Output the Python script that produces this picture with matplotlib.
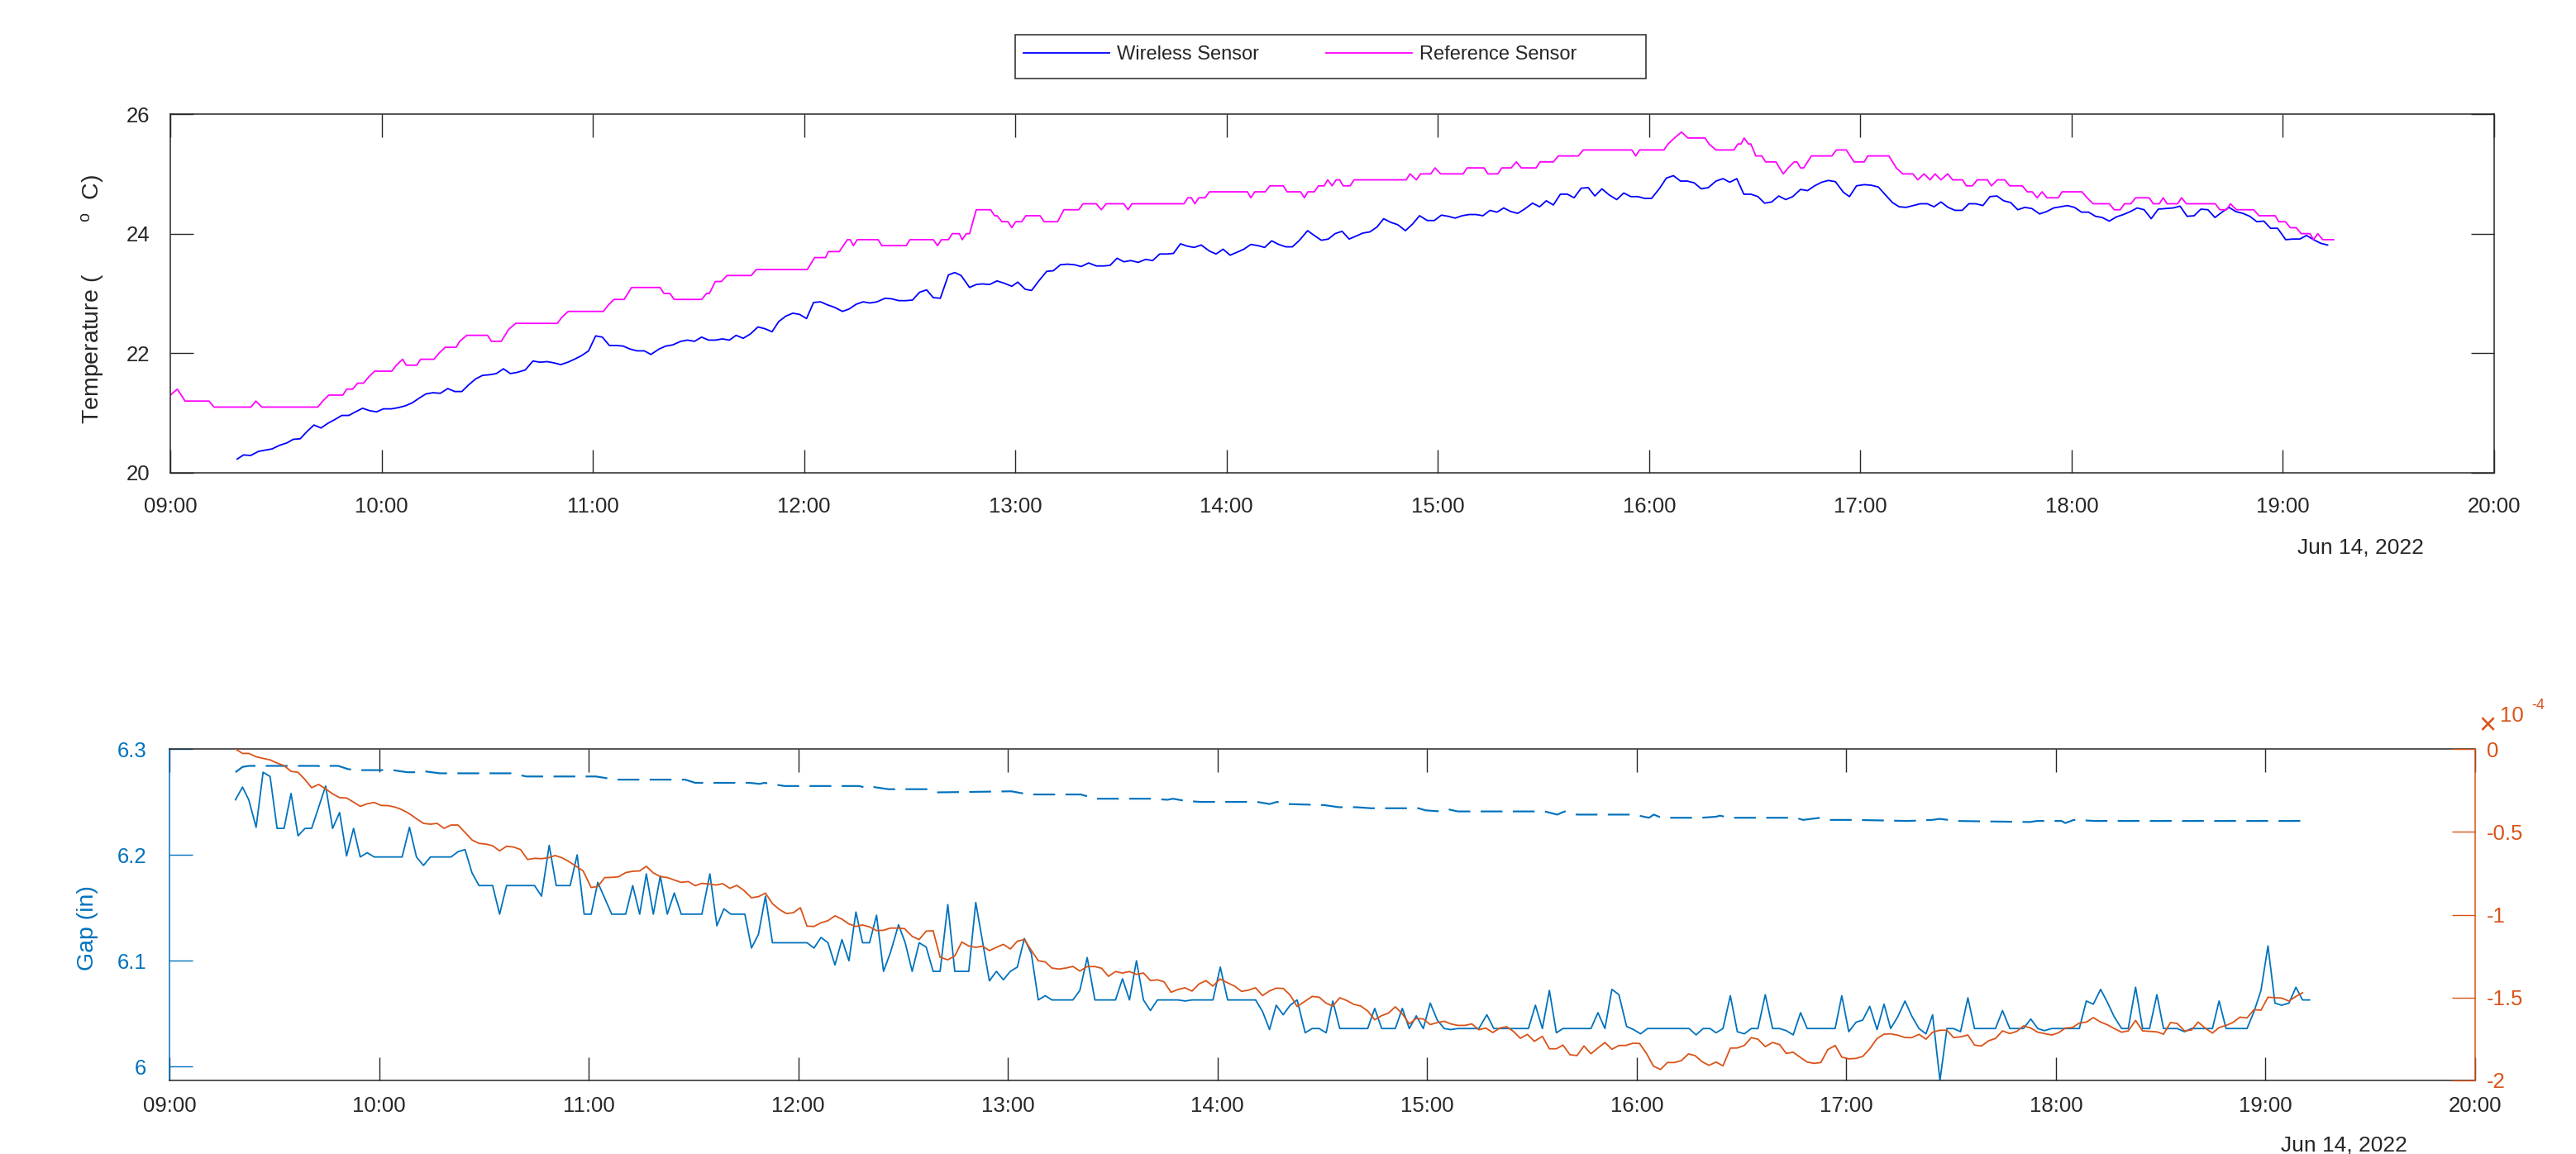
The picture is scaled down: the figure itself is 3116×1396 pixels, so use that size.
import numpy as np
import matplotlib
matplotlib.use('Agg')
import matplotlib.pyplot as plt
import matplotlib.dates as mdates
from matplotlib.ticker import FixedLocator, FuncFormatter
from matplotlib.patches import Rectangle

plt.rcParams['font.family'] = ['Liberation Sans', 'DejaVu Sans']
plt.rcParams['axes.unicode_minus'] = False
plt.rcParams['lines.scale_dashes'] = False
plt.rcParams['mathtext.fontset'] = 'custom'
plt.rcParams['mathtext.rm'] = 'Liberation Sans'
plt.rcParams['mathtext.it'] = 'Liberation Sans'

# ---------------- data (minutes after 09:00, value) ----------------
wireless = [(19.0,20.23),(20.8,20.30),(22.8,20.29),(25.1,20.36),(28.9,20.40),(31.0,20.46),(33.1,20.50),(34.9,20.56),(36.9,20.57),(38.8,20.69),(40.8,20.80),(42.8,20.75),(44.8,20.83),(46.7,20.89),(48.7,20.96),(50.7,20.96),(52.6,21.02),(54.6,21.08),(56.6,21.04),(58.6,21.02),(60.5,21.07),(62.8,21.07),(64.7,21.09),(66.7,21.12),(68.7,21.17),(70.7,21.25),(72.6,21.32),(74.6,21.34),(76.7,21.33),(78.8,21.41),(80.8,21.36),(82.8,21.36),(84.7,21.47),(86.7,21.57),(88.7,21.63),(90.6,21.64),(92.6,21.66),(94.6,21.74),(96.6,21.66),(98.5,21.68),(100.8,21.72),(103.0,21.87),(105.0,21.85),(107.0,21.86),(108.9,21.84),(110.9,21.81),(112.9,21.85),(114.8,21.90),(116.8,21.96),(118.8,22.04),(120.8,22.29),(122.7,22.27),(124.7,22.13),(126.7,22.13),(128.6,22.12),(130.6,22.07),(132.6,22.04),(134.6,22.04),(136.5,21.98),(138.8,22.07),(140.7,22.12),(142.7,22.14),(145.0,22.20),(146.9,22.22),(148.9,22.20),(150.9,22.27),(152.9,22.22),(154.8,22.22),(156.8,22.24),(158.8,22.22),(160.7,22.30),(162.7,22.25),(164.7,22.32),(166.9,22.44),(168.9,22.41),(170.9,22.36),(172.8,22.53),(174.8,22.62),(176.8,22.67),(178.7,22.65),(180.7,22.58),(182.7,22.85),(184.7,22.86),(186.6,22.81),(188.6,22.77),(190.9,22.70),(192.8,22.74),(194.8,22.82),(196.8,22.86),(198.7,22.84),(200.7,22.86),(203.0,22.92),(204.9,22.91),(206.9,22.88),(208.9,22.88),(210.8,22.89),(212.8,23.02),(214.8,23.06),(216.7,22.93),(218.7,22.92),
(221.0,23.31),(222.8,23.35),(224.6,23.30),(227.0,23.10),(228.9,23.15),(230.6,23.16),(232.7,23.15),(234.8,23.21),(236.9,23.17),(239.0,23.12),(240.7,23.19),(242.8,23.07),(244.6,23.05),(246.8,23.22),(248.9,23.37),(250.8,23.38),(252.8,23.48),(254.8,23.49),(256.8,23.48),(258.7,23.45),(260.8,23.51),(263.0,23.46),(265.1,23.46),(266.9,23.47),(268.9,23.59),(270.8,23.53),(272.8,23.55),(274.9,23.52),(277.0,23.57),(279.0,23.55),(281.0,23.66),(283.0,23.66),(284.9,23.67),(286.9,23.83),(288.9,23.79),(290.8,23.77),(292.8,23.81),(295.1,23.71),(297.0,23.66),(299.0,23.74),(301.0,23.64),(303.0,23.69),(304.9,23.74),(306.9,23.82),(308.9,23.80),(310.8,23.77),(312.8,23.88),(314.8,23.82),(316.8,23.78),(318.7,23.78),(320.7,23.89),(323.0,24.05),(324.9,23.97),(326.9,23.89),(328.9,23.91),(330.8,24.00),(332.8,24.04),(334.8,23.91),(336.8,23.96),(338.7,24.01),(340.7,24.03),(342.7,24.11),(344.6,24.25),(346.6,24.19),(348.6,24.15),(350.8,24.05),(352.8,24.16),(354.8,24.30),(357.0,24.22),(359.0,24.22),(361.0,24.31),(363.0,24.29),(364.9,24.26),(366.9,24.30),(368.9,24.32),(370.8,24.32),(372.8,24.30),(374.8,24.39),(376.8,24.36),(378.7,24.43),(380.7,24.37),(382.7,24.34),(384.6,24.41),(386.9,24.51),(388.9,24.45),(390.8,24.55),(392.8,24.48),(394.8,24.66),(396.8,24.66),(398.7,24.60),(400.7,24.76),(402.7,24.77),(404.6,24.63),(406.6,24.75),(408.6,24.65),(410.8,24.57),(412.8,24.68),(414.8,24.62),(416.8,24.62),(418.7,24.59),(420.7,24.59),(423.0,24.76),(424.9,24.93),(426.9,24.97),(428.9,24.88),(430.8,24.88),(432.8,24.85),(434.8,24.75),(436.8,24.77),(439.0,24.88),
(441.0,24.92),(442.9,24.86),(444.9,24.92),(446.9,24.66),(448.9,24.66),(450.9,24.62),(452.8,24.51),(454.8,24.53),(456.8,24.63),(458.8,24.57),(460.8,24.62),(463.0,24.74),(465.0,24.72),(467.0,24.80),(469.0,24.86),(470.9,24.89),(472.9,24.87),(475.2,24.69),(476.9,24.62),(478.9,24.80),(481.1,24.82),(483.1,24.81),(485.1,24.78),(487.1,24.65),(489.1,24.52),(491.0,24.45),(493.0,24.44),(495.0,24.47),(497.0,24.50),(499.0,24.50),(500.9,24.45),(502.9,24.53),(504.9,24.44),(506.9,24.39),(508.9,24.39),(510.8,24.50),(512.8,24.50),(514.8,24.47),(516.8,24.62),(518.8,24.63),(520.7,24.55),(522.7,24.52),(524.7,24.40),(526.7,24.44),(528.7,24.42),(530.9,24.33),(532.9,24.37),(534.9,24.43),(536.9,24.45),(538.8,24.47),(540.8,24.44),(542.8,24.36),(544.8,24.36),(546.8,24.29),(548.7,24.27),(550.7,24.21),(552.7,24.28),(554.7,24.32),(556.7,24.37),(558.6,24.43),(560.6,24.40),(562.6,24.25),(564.6,24.41),(566.6,24.42),(568.8,24.43),(570.8,24.46),(572.8,24.29),(574.8,24.30),(576.7,24.41),(578.7,24.40),(580.7,24.27),(582.7,24.36),(584.7,24.44),(586.6,24.37),(588.6,24.34),(590.6,24.29),(592.6,24.20),(594.6,24.21),(596.5,24.09),(598.5,24.09),(600.8,23.90),(602.8,23.91),(604.8,23.91),(606.7,23.97),(608.7,23.90),(610.7,23.84),(612.7,23.81)]

reference = [(0.0,21.3),(2.0,21.4),(4.2,21.2),(11.0,21.2),(12.4,21.1),(22.9,21.1),(24.3,21.2),(26.0,21.1),(41.9,21.1),(43.3,21.2),(45.0,21.3),(49.0,21.3),(50.1,21.4),(51.8,21.4),(53.2,21.5),(54.9,21.5),(56.3,21.6),(58.0,21.7),(62.9,21.7),(64.2,21.8),(66.0,21.9),(67.0,21.8),(70.0,21.8),(71.1,21.9),(74.9,21.9),(76.3,22.0),(78.1,22.1),(81.2,22.1),(82.2,22.2),(84.2,22.3),(90.1,22.3),(91.2,22.2),(94.0,22.2),(96.1,22.4),(98.1,22.5),(109.9,22.5),(111.2,22.6),(113.0,22.7),(123.0,22.7),(124.3,22.8),(126.0,22.9),(128.9,22.9),(131.0,23.1),(139.1,23.1),(140.2,23.0),(141.9,23.0),(143.1,22.9),(150.9,22.9),(152.3,23.0),(153.1,23.0),(154.8,23.2),(156.5,23.2),(158.1,23.3),(165.0,23.3),(166.4,23.4),(180.9,23.4),(183.0,23.6),(186.1,23.6),(186.9,23.7),(190.0,23.7),(192.3,23.9),(193.1,23.9),(194.0,23.8),(195.1,23.9),(201.0,23.9),(202.1,23.8),(209.0,23.8),(210.1,23.9),(216.7,23.9),(217.9,23.8),(219.0,23.9),
(221.0,23.9),(222.1,24.0),(224.1,24.0),(224.9,23.9),(226.1,24.0),(227.0,24.0),(228.9,24.4),(233.0,24.4),(234.1,24.3),(234.8,24.3),(236.2,24.2),(237.9,24.2),(239.0,24.1),(240.1,24.2),(241.8,24.2),(243.0,24.3),(247.0,24.3),(248.2,24.2),(252.0,24.2),(253.8,24.4),(258.0,24.4),(259.2,24.5),(263.0,24.5),(264.4,24.4),(265.8,24.5),(270.8,24.5),(272.0,24.4),(273.1,24.5),(287.9,24.5),(289.0,24.6),(290.0,24.6),(291.0,24.5),(292.1,24.6),(293.9,24.6),(295.1,24.7),(305.9,24.7),(306.9,24.6),(308.0,24.7),(311.0,24.7),(312.3,24.8),(316.1,24.8),(317.2,24.7),(321.0,24.7),(322.1,24.6),(323.1,24.7),(324.9,24.7),(326.1,24.8),(327.7,24.8),(328.7,24.9),(330.0,24.8),(331.1,24.9),(332.1,24.9),(333.1,24.8),(335.1,24.8),(336.2,24.9),(351.0,24.9),(352.1,25.0),(353.9,24.9),(355.1,25.0),(358.0,25.0),(359.2,25.1),(360.8,25.0),(367.2,25.0),(368.3,25.1),(373.1,25.1),(374.2,25.0),(377.0,25.0),(378.2,25.1),(380.8,25.1),(382.3,25.2),(383.7,25.1),(387.9,25.1),(389.0,25.2),(392.8,25.2),(394.2,25.3),(399.9,25.3),(401.3,25.4),(415.1,25.4),(416.2,25.3),(417.3,25.4),(424.2,25.4),(425.4,25.5),(427.2,25.6),(429.2,25.7),(431.0,25.6),(435.9,25.6),(437.0,25.5),(439.0,25.4),
(444.1,25.4),(445.2,25.5),(446.1,25.5),(447.0,25.6),(448.2,25.5),(448.9,25.5),(450.3,25.3),(452.0,25.3),(453.1,25.2),(456.0,25.2),(458.1,25.0),(459.5,25.1),(461.2,25.2),(462.0,25.2),(463.0,25.1),(463.9,25.1),(466.1,25.3),(471.9,25.3),(473.2,25.4),(476.0,25.4),(478.2,25.2),(481.1,25.2),(482.1,25.3),(488.1,25.3),(490.2,25.1),(492.0,25.0),(494.9,25.0),(496.3,24.9),(498.1,25.0),(499.8,24.9),(501.2,25.0),(502.9,24.9),(504.8,25.0),(506.2,24.9),(509.0,24.9),(510.1,24.8),(511.8,24.8),(513.2,24.9),(516.1,24.9),(517.2,24.8),(518.9,24.9),(521.0,24.9),(522.4,24.8),(526.0,24.8),(527.4,24.7),(528.8,24.7),(530.2,24.6),(531.6,24.7),(533.0,24.6),(536.2,24.6),(537.3,24.7),(542.9,24.7),(544.4,24.6),(546.1,24.5),(550.7,24.5),(552.1,24.4),(553.8,24.4),(555.0,24.5),(556.8,24.5),(558.2,24.6),(562.0,24.6),(563.2,24.5),(564.9,24.5),(566.0,24.6),(567.1,24.5),(570.1,24.5),(571.2,24.6),(572.6,24.5),(580.8,24.5),(582.1,24.4),(584.0,24.4),(585.1,24.5),(586.8,24.4),(591.7,24.4),(593.2,24.3),(597.8,24.3),(598.8,24.2),(600.7,24.2),(602.1,24.1),(603.8,24.1),(605.2,24.0),(607.7,24.0),(608.7,23.9),(609.9,24.0),(611.3,23.9),(614.4,23.9)]

gap_measured = [(18.9,6.252),(20.9,6.264),(22.7,6.252),(24.8,6.226),(26.8,6.278),(28.8,6.274),(30.8,6.225),(32.8,6.225),(34.8,6.258),(36.8,6.218),(38.8,6.225),(40.7,6.225),(42.7,6.245),(44.7,6.265),(46.7,6.225),(48.7,6.240),(50.7,6.199),(52.7,6.225),(54.6,6.198),(56.6,6.202),(58.6,6.198),(60.6,6.198),(62.6,6.198),(64.6,6.198),(66.6,6.198),(68.7,6.226),(70.7,6.198),(72.7,6.190),(74.7,6.198),(76.6,6.198),(78.6,6.198),(80.6,6.198),(82.6,6.203),(84.6,6.205),(86.6,6.183),(88.6,6.171),(90.6,6.171),(92.5,6.171),(94.5,6.144),(96.5,6.171),(98.5,6.171),(100.5,6.171),(102.5,6.171),(104.5,6.171),(106.5,6.161),(108.7,6.209),(110.7,6.171),(112.7,6.171),(114.7,6.171),(116.7,6.200),(118.7,6.144),(120.7,6.144),(122.6,6.174),(124.6,6.159),(126.6,6.144),(128.6,6.144),(130.6,6.144),(132.6,6.171),(134.6,6.144),(136.5,6.182),(138.5,6.144),(140.5,6.180),(142.5,6.144),(144.5,6.164),(146.5,6.144),(148.5,6.144),(150.5,6.144),(152.4,6.144),(154.7,6.182),(156.7,6.133),(158.7,6.149),(160.7,6.144),(162.7,6.144),(164.7,6.144),(166.6,6.112),(168.6,6.125),(170.6,6.161),(172.6,6.117),(174.6,6.117),(176.6,6.117),(178.6,6.117),(180.6,6.117),(182.5,6.117),(184.5,6.112),(186.5,6.122),(188.5,6.117),(190.5,6.096),(192.5,6.120),(194.5,6.100),(196.5,6.146),(198.4,6.117),(200.4,6.117),(202.4,6.143),(204.4,6.090),(206.4,6.108),(208.7,6.134),(210.6,6.117),(212.6,6.090),(214.6,6.117),(216.6,6.113),(218.6,6.090),(220.6,6.090),
(222.8,6.153),(224.8,6.090),(226.8,6.090),(228.8,6.090),(230.8,6.155),(232.8,6.117),(234.7,6.081),(236.7,6.090),(238.7,6.082),(240.7,6.090),(242.7,6.094),(244.7,6.121),(246.7,6.107),(248.7,6.063),(250.7,6.067),(252.6,6.063),(254.6,6.063),(256.6,6.063),(258.6,6.063),(260.6,6.072),(262.7,6.103),(264.9,6.063),(266.8,6.063),(268.8,6.063),(270.8,6.063),(272.8,6.083),(274.8,6.063),(276.8,6.100),(278.8,6.063),(280.8,6.053),(282.8,6.063),(284.7,6.063),(286.7,6.063),(288.7,6.063),(290.7,6.062),(292.7,6.063),(294.7,6.063),(296.7,6.063),(298.7,6.063),(300.8,6.094),(302.9,6.063),(304.9,6.063),(306.9,6.063),(308.9,6.063),(310.9,6.063),(312.9,6.052),(314.9,6.035),(316.8,6.058),(318.8,6.049),(320.8,6.058),(322.8,6.063),(325.1,6.032),(327.1,6.036),(329.1,6.036),(331.1,6.032),(333.0,6.062),(335.0,6.036),(337.0,6.036),(339.0,6.036),(341.0,6.036),(343.0,6.036),(345.0,6.055),(347.0,6.036),(348.9,6.036),(350.9,6.036),(352.9,6.055),(354.9,6.036),(356.9,6.048),(358.9,6.036),(360.9,6.060),(362.9,6.044),(364.9,6.036),(366.8,6.035),(368.8,6.036),(370.8,6.036),(372.8,6.036),(374.8,6.036),(377.1,6.049),(379.1,6.036),(381.1,6.036),(383.0,6.036),(385.0,6.036),(387.0,6.036),(389.0,6.036),(391.0,6.058),(393.0,6.036),(395.0,6.072),(397.0,6.032),(398.9,6.036),(400.9,6.036),(402.9,6.036),(404.9,6.036),(406.9,6.036),(408.9,6.051),(410.9,6.036),(412.9,6.073),(414.9,6.068),(417.1,6.038),(419.1,6.035),(421.1,6.031),(423.1,6.036),(425.1,6.036),(427.1,6.036),(429.1,6.036),(431.1,6.036),(433.0,6.036),(435.0,6.036),(437.0,6.030),(439.0,6.036),(441.0,6.036),(442.7,6.032),
(444.7,6.036),(446.8,6.067),(448.8,6.033),(450.8,6.031),(452.8,6.036),(454.7,6.036),(456.8,6.068),(458.9,6.036),(460.9,6.036),(462.8,6.034),(464.8,6.030),(466.9,6.051),(468.8,6.036),(470.8,6.036),(472.7,6.036),(474.7,6.036),(476.8,6.036),(478.7,6.067),(480.7,6.033),(482.8,6.042),(484.7,6.044),(486.7,6.057),(488.8,6.035),(490.8,6.059),(492.7,6.036),(494.7,6.047),(496.8,6.062),(498.7,6.048),(500.8,6.036),(502.8,6.031),(504.7,6.049),(506.8,5.987),(508.8,6.036),(510.7,6.036),(512.7,6.033),(514.8,6.065),(516.7,6.036),(518.7,6.036),(520.7,6.036),(522.7,6.036),(524.7,6.053),(526.8,6.036),(528.8,6.036),(530.7,6.036),(532.8,6.045),(534.8,6.036),(536.7,6.034),(538.8,6.036),(540.8,6.036),(542.7,6.036),(544.7,6.036),(546.7,6.036),(548.7,6.062),(550.7,6.059),(552.8,6.073),(554.7,6.061),(556.7,6.047),(558.8,6.036),(560.7,6.036),(562.8,6.075),(564.8,6.036),(566.8,6.036),(568.9,6.068),(570.8,6.036),(572.8,6.036),(574.7,6.036),(576.8,6.033),(578.8,6.036),(580.7,6.036),(582.7,6.036),(584.8,6.036),(586.7,6.062),(588.7,6.036),(590.6,6.036),(592.7,6.036),(594.7,6.036),(596.7,6.052),(598.7,6.072),(600.7,6.114),(602.7,6.060),(604.6,6.058),(606.7,6.060),(608.7,6.075),(610.6,6.063),(612.6,6.063)]

gap_smooth = [(18.9,6.278),(20.9,6.283),(22.7,6.284),(42.6,6.284),(43.3,6.283),(44.5,6.284),(48.3,6.284),(51.1,6.281),(53.2,6.280),(63.9,6.280),(68.1,6.278),(71.0,6.278),(72.7,6.279),(77.4,6.277),(97.9,6.277),(102.2,6.274),(122.1,6.274),(127.8,6.271),(147.6,6.271),(150.5,6.268),(166.1,6.268),(168.9,6.267),(170.3,6.268),(176.0,6.265),(197.3,6.265),(200.1,6.263),(201.6,6.264),(205.8,6.262),(217.2,6.262),(220.0,6.259),(241.0,6.260),(246.0,6.257),(260.9,6.257),(265.1,6.253),(280.8,6.253),(285.7,6.252),(287.2,6.253),(290.7,6.251),(295.0,6.250),(311.3,6.250),(314.9,6.248),(317.0,6.250),(319.8,6.248),(330.5,6.247),(334.7,6.245),(339.7,6.245),(344.0,6.244),(357.5,6.244),(359.6,6.242),(363.9,6.241),(366.0,6.243),(368.8,6.241),(389.4,6.241),(393.7,6.241),(397.2,6.238),(399.4,6.241),(402.9,6.238),(419.3,6.238),(423.5,6.235),(424.9,6.238),(427.1,6.235),(438.4,6.235),(442.7,6.236),(443.8,6.237),(446.6,6.235),(465.5,6.235),(467.6,6.233),(472.5,6.235),(475.3,6.233),(482.2,6.233),(497.6,6.232),(504.6,6.233),(506.7,6.234),(511.6,6.232),(532.5,6.231),(534.6,6.232),(541.6,6.232),(542.7,6.230),(545.1,6.233),(551.4,6.232),(612.9,6.232)]

# right axis series, in units of 1e-4
strain_e4 = [(18.9,0.000),(20.9,-0.027),(22.7,-0.027),(24.8,-0.047),(26.8,-0.057),(28.8,-0.066),(30.8,-0.085),(32.8,-0.101),(34.8,-0.135),(36.8,-0.141),(38.8,-0.185),(40.7,-0.234),(42.7,-0.214),(44.7,-0.241),(46.7,-0.271),(48.7,-0.294),(50.7,-0.296),(52.7,-0.321),(54.6,-0.346),(56.6,-0.331),(58.6,-0.323),(60.6,-0.341),(62.6,-0.342),(64.6,-0.351),(66.6,-0.367),(68.7,-0.391),(70.7,-0.421),(72.7,-0.449),(74.7,-0.454),(76.6,-0.449),(78.6,-0.479),(80.6,-0.459),(82.6,-0.459),(84.6,-0.504),(86.6,-0.549),(88.6,-0.570),(90.6,-0.574),(92.5,-0.584),(94.5,-0.615),(96.5,-0.587),(98.5,-0.592),(100.5,-0.607),(102.5,-0.667),(104.5,-0.660),(106.5,-0.662),(108.4,-0.657),(110.4,-0.643),(112.4,-0.657),(114.4,-0.680),(116.4,-0.708),(118.4,-0.736),(120.7,-0.836),(122.6,-0.830),(124.6,-0.776),(126.6,-0.775),(128.6,-0.771),(130.6,-0.746),(132.6,-0.738),(134.6,-0.736),(136.5,-0.708),(138.5,-0.748),(140.5,-0.770),(142.5,-0.776),(144.5,-0.791),(146.5,-0.805),(148.5,-0.800),(150.5,-0.825),(152.4,-0.811),(154.4,-0.815),(156.4,-0.821),(158.4,-0.813),(160.4,-0.841),(162.4,-0.823),(164.4,-0.853),(166.6,-0.898),(168.6,-0.891),(170.6,-0.870),(172.6,-0.933),(174.6,-0.969),(176.6,-0.993),(178.6,-0.988),(180.6,-0.958),(182.5,-1.069),(184.5,-1.071),(186.5,-1.049),(188.5,-1.036),(190.5,-1.007),(192.5,-1.027),(194.5,-1.056),(196.5,-1.071),(198.4,-1.062),(200.4,-1.074),(202.4,-1.096),(204.4,-1.094),(206.4,-1.081),(208.4,-1.081),(210.4,-1.084),(212.6,-1.131),(214.6,-1.150),(216.6,-1.099),(218.6,-1.097),(220.6,-1.257),
(222.8,-1.272),(224.8,-1.249),(226.8,-1.165),(228.8,-1.189),(230.8,-1.197),(232.8,-1.190),(234.7,-1.217),(236.7,-1.197),(238.7,-1.179),(240.7,-1.207),(242.7,-1.160),(244.7,-1.150),(246.7,-1.215),(248.7,-1.278),(250.7,-1.285),(252.6,-1.322),(254.6,-1.328),(256.6,-1.322),(258.6,-1.312),(260.6,-1.340),(262.7,-1.313),(264.9,-1.313),(266.8,-1.323),(268.8,-1.372),(270.8,-1.343),(272.8,-1.352),(274.8,-1.343),(276.8,-1.360),(278.8,-1.352),(280.8,-1.397),(282.8,-1.393),(284.7,-1.405),(286.7,-1.468),(288.7,-1.451),(290.7,-1.441),(292.7,-1.461),(294.7,-1.418),(296.7,-1.398),(298.7,-1.431),(300.7,-1.388),(302.6,-1.408),(304.9,-1.431),(306.9,-1.463),(308.9,-1.455),(310.9,-1.441),(312.9,-1.488),(314.9,-1.460),(316.8,-1.443),(318.8,-1.445),(320.8,-1.485),(322.8,-1.554),(324.8,-1.526),(327.1,-1.493),(329.1,-1.498),(331.1,-1.534),(333.0,-1.551),(335.0,-1.501),(337.0,-1.518),(339.0,-1.541),(341.0,-1.551),(343.0,-1.581),(345.0,-1.634),(347.0,-1.609),(348.9,-1.594),(350.9,-1.556),(352.9,-1.598),(354.9,-1.659),(356.9,-1.626),(358.9,-1.629),(360.9,-1.663),(362.9,-1.651),(364.9,-1.643),(366.8,-1.659),(368.8,-1.668),(370.8,-1.668),(372.8,-1.659),(374.8,-1.694),(376.8,-1.684),(378.8,-1.711),(380.8,-1.684),(382.8,-1.676),(384.7,-1.704),(386.7,-1.746),(388.7,-1.722),(390.7,-1.764),(393.0,-1.734),(395.0,-1.809),(397.0,-1.809),(398.9,-1.787),(400.9,-1.845),(402.9,-1.850),(404.9,-1.792),(406.9,-1.839),(408.9,-1.804),(410.9,-1.771),(412.9,-1.812),(414.9,-1.789),(416.9,-1.789),(418.8,-1.776),(420.8,-1.777),(422.8,-1.837),(424.8,-1.914),(426.8,-1.934),(428.8,-1.892),(430.8,-1.892),(432.8,-1.880),(434.8,-1.840),(436.7,-1.850),(438.7,-1.887),(440.7,-1.909),(442.7,-1.889),
(444.7,-1.912),(446.8,-1.805),(448.8,-1.804),(450.8,-1.789),(452.8,-1.742),(454.7,-1.751),(456.8,-1.796),(458.9,-1.771),(460.9,-1.784),(462.8,-1.837),(464.8,-1.830),(466.9,-1.862),(468.8,-1.889),(470.8,-1.897),(472.7,-1.892),(474.7,-1.814),(476.8,-1.789),(478.7,-1.859),(480.7,-1.870),(482.8,-1.867),(484.7,-1.855),(486.7,-1.809),(488.8,-1.747),(490.8,-1.721),(492.7,-1.719),(494.7,-1.727),(496.8,-1.741),(498.7,-1.742),(500.8,-1.722),(502.8,-1.751),(504.7,-1.709),(506.8,-1.697),(508.8,-1.697),(510.7,-1.741),(512.7,-1.737),(514.8,-1.726),(516.7,-1.787),(518.7,-1.792),(520.7,-1.761),(522.7,-1.747),(524.7,-1.701),(526.8,-1.717),(528.8,-1.704),(530.7,-1.671),(532.8,-1.684),(534.8,-1.709),(536.7,-1.717),(538.8,-1.726),(540.8,-1.712),(542.7,-1.684),(544.7,-1.681),(546.7,-1.654),(548.7,-1.648),(550.7,-1.621),(552.8,-1.648),(554.7,-1.664),(556.7,-1.687),(558.8,-1.709),(560.7,-1.701),(562.8,-1.638),(564.8,-1.701),(566.8,-1.704),(568.9,-1.707),(570.8,-1.721),(572.8,-1.651),(574.7,-1.656),(576.8,-1.701),(578.8,-1.696),(580.7,-1.648),(582.7,-1.684),(584.8,-1.714),(586.7,-1.681),(588.7,-1.668),(590.6,-1.651),(592.7,-1.618),(594.7,-1.623),(596.7,-1.573),(598.7,-1.576),(600.7,-1.498),(602.7,-1.501),(604.6,-1.503),(606.7,-1.521),(608.7,-1.493),(610.6,-1.471)]

legend_labels = ['Wireless Sensor', 'Reference Sensor']
temp_ticks = [20, 22, 24, 26]
gap_ticks = [6.0, 6.1, 6.2, 6.3]
strain_ticks_e4 = [-2, -1.5, -1, -0.5, 0]
date_label = 'Jun 14, 2022'

# ---------------- helpers ----------------
BASE = np.datetime64('2022-06-14T09:00:00')

def split(series):
    arr = np.array(series, dtype=float)
    t = BASE + np.round(arr[:, 0] * 60).astype(np.int64).astype('timedelta64[s]')
    return t, arr[:, 1]

W, H, DPI = 3116, 1396, 100
fig = plt.figure(figsize=(W / DPI, H / DPI), dpi=DPI)

def rect(l, t, r, b):
    return [l / W, 1 - b / H, (r - l) / W, (b - t) / H]

GRAY = '#262626'
MBLUE = '#0072BD'
MORANGE = '#D95319'
FS_TICK = 18.5
FS_LABEL = 20.5
FS_DATE = 19
FS_LEG = 17
LW = 1.3
TICKLEN = 20

ax1 = fig.add_axes(rect(206, 138, 3017, 572))
ax2 = fig.add_axes(rect(205, 906, 2994, 1307))
ax3 = ax2.twinx()

xmin = BASE
xmax = BASE + np.timedelta64(11, 'h')

# ---------- top axes ----------
t, v = split(wireless)
l1, = ax1.plot(t, v, color='#0000FF', lw=LW)
t, v = split(reference)
l2, = ax1.plot(t, v, color='#FF00FF', lw=LW)
ax1.set_xlim(xmin, xmax)
ax1.set_ylim(20, 26)
ax1.yaxis.set_major_locator(FixedLocator(temp_ticks))
ax1.yaxis.set_major_formatter(FuncFormatter(lambda x, p: '%g' % x))

for ax in (ax1, ax2):
    ax.xaxis.set_major_locator(mdates.HourLocator(interval=1))
    ax.xaxis.set_major_formatter(mdates.DateFormatter('%H:%M'))
    for s in ax.spines.values():
        s.set_color(GRAY)
        s.set_linewidth(1.1)

ax1.tick_params(axis='both', which='both', direction='in', length=TICKLEN, width=1.0,
                color=GRAY, labelcolor=GRAY, labelsize=FS_TICK, top=True, right=True)
ax1.tick_params(axis='x', pad=21)
ax1.tick_params(axis='y', pad=18)
ax1.set_ylabel('Temperature (        $^{\\mathrm{o}}$  C)', fontsize=FS_LABEL, color=GRAY)
ax1.yaxis.set_label_coords(-0.0277, 0.485)

# ---------- bottom axes ----------
t, v = split(gap_measured)
ax2.plot(t, v, color=MBLUE, lw=LW)
t, v = split(gap_smooth)
ax2.plot(t, v, color=MBLUE, lw=LW * 1.2, linestyle=(0, (19, 9)))
ax2.set_xlim(xmin, xmax)
ax2.set_ylim(5.987, 6.3)
ax2.yaxis.set_major_locator(FixedLocator(gap_ticks))
ax2.yaxis.set_major_formatter(FuncFormatter(lambda x, p: '%g' % round(x, 3)))
ax2.tick_params(axis='x', direction='in', length=TICKLEN, width=1.0, color=GRAY,
                labelcolor=GRAY, labelsize=FS_TICK, top=True, pad=14)
ax2.tick_params(axis='y', direction='in', length=TICKLEN, width=1.0, color=MBLUE,
                labelcolor=MBLUE, labelsize=FS_TICK, left=True, right=False, pad=20)
ax2.spines['left'].set_color(MBLUE)
ax2.spines['right'].set_visible(False)
ax2.set_ylabel('Gap (in)', fontsize=FS_LABEL, color=MBLUE)
ax2.yaxis.set_label_coords(-0.0308, 0.46)

t, v = split(strain_e4)
ax3.plot(t, v * 1e-4, color=MORANGE, lw=LW)
ax3.set_xlim(xmin, xmax)
ax3.set_ylim(-2e-4, 0)
ax3.yaxis.set_major_locator(FixedLocator([s * 1e-4 for s in strain_ticks_e4]))
ax3.yaxis.set_major_formatter(FuncFormatter(lambda x, p: '%g' % round(x * 1e4, 3)))
ax3.tick_params(axis='y', direction='in', length=TICKLEN, width=1.0, color=MORANGE,
                labelcolor=MORANGE, labelsize=FS_TICK, pad=10)
for k in ('left', 'top', 'bottom'):
    ax3.spines[k].set_visible(False)
ax3.spines['right'].set_color(MORANGE)
ax3.spines['right'].set_linewidth(1.1)

# exponent label (x10^-4)
fig.text(3009 / W, 1 - 879 / H, '\u00d7', fontsize=26, color=MORANGE, ha='center', va='center')
fig.text(3024 / W, 1 - 866 / H, '10', fontsize=FS_TICK, color=MORANGE, ha='left', va='center')
fig.text(3062 / W, 1 - 854 / H, '-4', fontsize=13, color=MORANGE, ha='left', va='center')

# date labels
fig.text(2855 / W, 1 - 662 / H, date_label, fontsize=FS_DATE, color=GRAY, ha='center', va='center')
fig.text(2835 / W, 1 - 1386 / H, date_label, fontsize=FS_DATE, color=GRAY, ha='center', va='center')

# legend: frame + entries
fig.patches.append(Rectangle((1228 / W, 1 - 95 / H), (1991 - 1228) / W, (95 - 42) / H,
                             transform=fig.transFigure, fill=False, edgecolor=GRAY,
                             linewidth=1.1))
fig.legend([l1, l2], legend_labels, loc='upper left',
           bbox_to_anchor=(1238 / W, 1 - 55 / H), ncol=2, frameon=False,
           fontsize=FS_LEG, handlelength=4.4, handletextpad=0.4, columnspacing=3.4,
           borderpad=0, borderaxespad=0, labelcolor=GRAY)

fig.savefig('out.png', dpi=DPI, facecolor='white')
